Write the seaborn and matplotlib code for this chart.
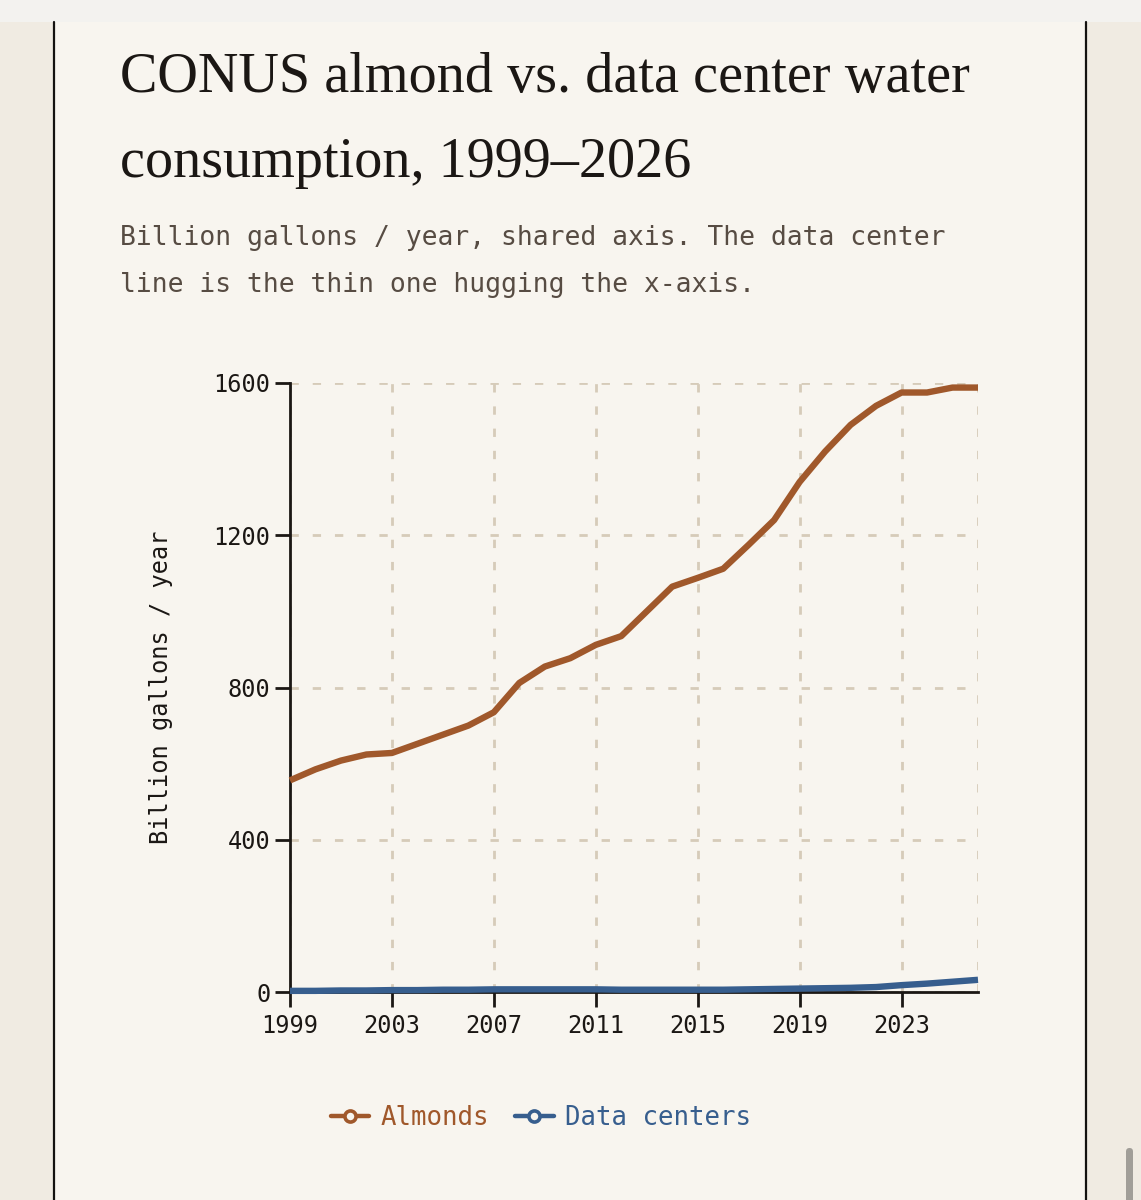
import numpy as np
import pandas as pd
import matplotlib.pyplot as plt
import seaborn as sns
from matplotlib.lines import Line2D
from matplotlib.patches import Rectangle, FancyBboxPatch

years = list(range(1999, 2027))
almonds = [556, 585, 608, 624, 628, 652, 676, 700, 735, 812, 855, 877, 912, 935,
           1000, 1065, 1088, 1112, 1175, 1240, 1340, 1420, 1490, 1540, 1575, 1575,
           1588, 1588]
data_centers = [3, 3, 4, 4, 5, 5, 6, 6, 7, 7, 7, 7, 7, 6, 6, 6, 6, 6, 7, 8, 9, 10,
                11, 13, 18, 22, 27, 32]
series_names = ["Almonds", "Data centers"]
xticks = [1999, 2003, 2007, 2011, 2015, 2019, 2023]
yticks = [0, 400, 800, 1200, 1600]

title_1 = "CONUS almond vs. data center water"
title_2 = "consumption, 1999\u20132026"
subtitle_1 = "Billion gallons / year, shared axis. The data center"
subtitle_2 = "line is the thin one hugging the x-axis."

BROWN = "#a0582b"
BLUE = "#375e8e"
PANEL = "#f8f5ef"
OUTER = "#f0ebe2"
GRID = "#d6cbb9"
INK = "#1b1714"

df = pd.DataFrame({
    "year": years * 2,
    "value": almonds + data_centers,
    "series": [series_names[0]] * len(years) + [series_names[1]] * len(years),
})

sns.set_theme(style="ticks")
plt.rcParams["font.family"] = ["DejaVu Sans Mono", "DejaVu Sans"]

W, H = 1141, 1200
fig = plt.figure(figsize=(W / 100, H / 100), dpi=100)
fig.patch.set_facecolor(OUTER)

# page pieces: top strip, panel, panel borders, scrollbar
fig.add_artist(Rectangle((0, 1 - 22 / H), 1, 22 / H, transform=fig.transFigure,
                         facecolor="#f3f2ef", edgecolor="none", zorder=0))
fig.add_artist(Rectangle((54 / W, 0), (1086 - 54) / W, 1 - 22 / H,
                         transform=fig.transFigure, facecolor=PANEL,
                         edgecolor="none", zorder=0))
for bx in (54, 1086):
    fig.add_artist(Line2D([bx / W, bx / W], [0, 1 - 22 / H], transform=fig.transFigure,
                          color="#141210", lw=1.6, zorder=1))
fig.add_artist(FancyBboxPatch((1126 / W, -0.01), 7 / W, (1200 - 1148) / H + 0.01,
                              boxstyle="round,pad=0,rounding_size=0.003",
                              transform=fig.transFigure, facecolor="#a19e98",
                              edgecolor="none", zorder=1))

# titles
serif = ["Liberation Serif", "DejaVu Serif"]
fig.text(120 / W, 1 - 92 / H, title_1, family=serif, fontsize=40.5, color=INK,
         va="baseline", ha="left")
fig.text(120 / W, 1 - 177 / H, title_2, family=serif, fontsize=40.5, color=INK,
         va="baseline", ha="left")
fig.text(120 / W, 1 - 238 / H, subtitle_1, fontsize=19, color="#574c43",
         va="center", ha="left")
fig.text(120 / W, 1 - 285 / H, subtitle_2, fontsize=19, color="#574c43",
         va="center", ha="left")

ax = fig.add_axes([290 / W, 1 - 992 / H, (978 - 290) / W, (992 - 383) / H])
ax.set_facecolor(PANEL)

sns.lineplot(data=df, x="year", y="value", hue="series",
             palette={series_names[0]: BROWN, series_names[1]: BLUE},
             linewidth=4.6, ax=ax, legend=False, zorder=3)
for ln in ax.lines:
    ln.set_solid_capstyle("butt")
    ln.set_solid_joinstyle("round")
    ln.set_clip_on(False)

ax.set_xlim(1999, 2026)
ax.set_ylim(0, 1600)
ax.set_xticks(xticks)
ax.set_yticks(yticks)
ax.set_xlabel("")
ax.set_ylabel("Billion gallons / year", fontsize=17, color=INK)
ax.yaxis.set_label_coords(-0.17, 0.5)

dash = (0, (3, 5))
ax.grid(True, color=GRID, lw=2.0, linestyle=dash)
ax.axvline(2026, color=GRID, lw=2.0, linestyle=dash, zorder=1)
ax.set_axisbelow(True)

sns.despine(ax=ax)
for s in ("left", "bottom"):
    ax.spines[s].set_color(INK)
    ax.spines[s].set_linewidth(2.0)
    ax.spines[s].set_zorder(2)
ax.tick_params(axis="both", length=10.5, width=2.0, color=INK, labelsize=17,
               labelcolor=INK)
ax.tick_params(axis="y", pad=3.5)
ax.tick_params(axis="x", pad=5)

handles = [Line2D([], [], color=c, lw=3.2, marker="o", markersize=8,
                  markerfacecolor=PANEL, markeredgewidth=2.6, markeredgecolor=c)
           for c in (BROWN, BLUE)]
leg = fig.legend(handles, series_names, loc="center",
                 bbox_to_anchor=(541 / W, 1 - 1118 / H), ncol=2, frameon=False,
                 fontsize=18.5, handlelength=1.5, handletextpad=0.45,
                 columnspacing=1.0)
for txt, c in zip(leg.get_texts(), (BROWN, BLUE)):
    txt.set_color(c)

fig.savefig("out.png", dpi=100, facecolor=fig.get_facecolor())
